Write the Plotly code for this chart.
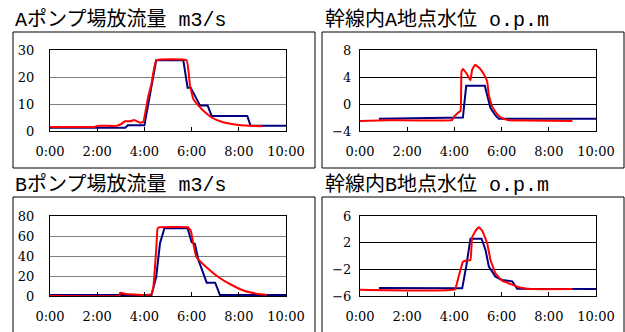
import plotly.graph_objects as go

W, H = 625, 332

# ---------------- data (hours, values) ----------------
a_flow_blue_t = [0, 3.19, 3.3, 4.0, 4.5, 5.65, 5.83, 5.96, 6.14, 6.36, 6.68, 6.85, 8.36, 8.5, 10]
a_flow_blue_v = [1.2, 1.2, 2.1, 2.1, 26.2, 26.2, 16, 16, 13.1, 9.4, 9.4, 5.6, 5.6, 1.9, 1.9]
a_flow_red_t = [0, 1.9, 2.0, 2.8, 3.0, 3.18, 3.4, 3.57, 3.8, 3.95, 4.17, 4.3, 4.5, 5.79, 5.93,
                6.07, 6.29, 6.57, 6.85, 7.27, 7.7, 8.1, 8.5, 9.0]
a_flow_red_v = [1.5, 1.5, 1.9, 1.9, 2.5, 3.6, 3.6, 4.1, 3.1, 3.3, 13.1, 17.5, 26.2, 26.2, 16.9,
                11.9, 9.4, 6.9, 5.0, 3.4, 2.6, 2.1, 1.9, 1.75]

a_lvl_blue_t = [0.8, 4.26, 4.36, 4.5, 5.29, 5.39, 5.53, 5.74, 5.88, 10]
a_lvl_blue_v = [-2.2, -2.1, -2.0, 2.7, 2.7, 1.3, -0.6, -1.7, -2.2, -2.2]
a_lvl_red_t = [0, 1.2, 3.9, 3.98, 4.12, 4.26, 4.3, 4.36, 4.51, 4.68, 4.75, 4.87, 5.04, 5.25,
               5.39, 5.46, 5.6, 5.81, 6.02, 6.3, 7.0, 9.0]
a_lvl_red_v = [-2.5, -2.4, -2.4, -1.9, -1.4, -1.0, 4.8, 5.2, 4.55, 3.5, 5.05, 5.8, 5.4, 4.4,
               3.3, 1.3, -0.4, -1.5, -2.1, -2.4, -2.45, -2.5]

b_flow_blue_t = [0, 4.3, 4.5, 4.66, 4.85, 5.83, 6.0, 6.14, 6.29, 6.5, 6.64, 7.0, 7.2, 10]
b_flow_blue_v = [1, 1, 19, 52.7, 67.7, 67.7, 54, 52, 36, 22.7, 13.3, 13.3, 1, 1]
b_flow_red_t = [0, 2.95, 2.97, 3.2, 4.0, 4.3, 4.38, 4.5, 4.56, 4.65, 5.86, 5.97, 6.07, 6.2,
                6.57, 7.13, 7.7, 8.26, 8.83, 9.18]
b_flow_red_v = [0.3, 0.3, 3.3, 2, 1, 2, 9, 46, 67.7, 68.7, 68.7, 65, 52.7, 39,
                30, 19, 11, 5, 2, 1]

b_lvl_blue_t = [0.8, 4.33, 4.5, 4.68, 5.15, 5.32, 5.46, 5.74, 6.02, 6.45, 6.66, 10]
b_lvl_blue_v = [-4.8, -4.85, -1.6, 2.6, 2.6, 0.9, -1.6, -3.1, -3.6, -3.8, -4.9, -4.96]
b_lvl_red_t = [0, 4.02, 4.18, 4.36, 4.47, 4.68, 4.75, 4.9, 5.04, 5.18, 5.39, 5.53, 5.74,
               6.02, 6.45, 6.73, 7.27, 9.0]
b_lvl_red_v = [-5.06, -5.0, -3.1, -0.86, -0.7, -0.6, 2.8, 3.8, 4.3, 3.8, 1.9, -0.6, -2.6,
               -3.7, -4.3, -4.7, -4.96, -4.96]

x_tickvals = [0, 2, 4, 6, 8, 10]
x_ticktext = ["0:00", "2:00", "4:00", "6:00", "8:00", "10:00"]

titles = ["Aポンプ場放流量 m3/s", "幹線内A地点水位 o.p.m",
          "Bポンプ場放流量 m3/s", "幹線内B地点水位 o.p.m"]
y_ranges = [[0, 30], [-4, 8], [0, 80], [-6, 6]]
y_tickvals = [[0, 10, 20, 30], [-4, 0, 4, 8], [0, 20, 40, 60, 80], [-6, -2, 2, 6]]

BLUE = "#000080"
RED = "#ff0000"

series = [
    (a_flow_blue_t, a_flow_blue_v, a_flow_red_t, a_flow_red_v),
    (a_lvl_blue_t, a_lvl_blue_v, a_lvl_red_t, a_lvl_red_v),
    (b_flow_blue_t, b_flow_blue_v, b_flow_red_t, b_flow_red_v),
    (b_lvl_blue_t, b_lvl_blue_v, b_lvl_red_t, b_lvl_red_v),
]

# plot areas in pixels (left, right, top, bottom)
areas = [(50, 286, 50, 131), (360, 596, 50, 131), (50, 286, 216, 296), (360, 596, 216, 296)]
boxes = [(13, 315, 32, 168), (322, 624, 32, 168), (13, 315, 197, 340), (322, 624, 197, 340)]
title_pos = [(13, 20), (323, 20), (13, 185), (323, 185)]
grid_colors = ["#7f7f7f", "#000000", "#7f7f7f", "#000000"]
ylab_standoff = [12, 5, 12, 5]

fig = go.Figure()
tickfont = dict(family="DejaVu Serif", size=13, color="black")

for i, (bt, bv, rt, rv) in enumerate(series):
    n = "" if i == 0 else str(i + 1)
    fig.add_trace(go.Scatter(x=bt, y=bv, mode="lines", line=dict(color=BLUE, width=2),
                             xaxis="x" + n, yaxis="y" + n, showlegend=False))
    fig.add_trace(go.Scatter(x=rt, y=rv, mode="lines",
                             line=dict(color=RED, width=2, shape="spline", smoothing=0.25),
                             xaxis="x" + n, yaxis="y" + n, showlegend=False))
    l, r, t, b = areas[i]
    fig.layout["xaxis" + n] = dict(
        domain=[l / W, r / W], range=[0, 10], anchor="y" + n, automargin=False,
        tickvals=x_tickvals, ticktext=x_ticktext, ticks="inside", ticklen=4,
        tickcolor="black", showgrid=False, zeroline=False, showline=True,
        linecolor="black", linewidth=1, mirror=True, tickfont=tickfont,
        ticklabelstandoff=8,
    )
    fig.layout["yaxis" + n] = dict(
        domain=[1 - b / H, 1 - t / H], range=y_ranges[i], tickvals=y_tickvals[i],
        anchor="x" + n, automargin=False, ticks="", showgrid=True,
        gridcolor=grid_colors[i], gridwidth=1,
        zeroline=False, showline=True, linecolor="black", linewidth=1, mirror=True,
        tickfont=tickfont, ticklabelstandoff=ylab_standoff[i],
    )

shapes = []
for (x0, x1, y0, y1) in boxes:
    shapes.append(dict(type="rect", xref="paper", yref="paper",
                       x0=x0 / W, x1=x1 / W, y0=1 - y1 / H, y1=1 - y0 / H,
                       line=dict(color="black", width=1), fillcolor="rgba(0,0,0,0)",
                       layer="below"))

annotations = []
for txt, (px, py) in zip(titles, title_pos):
    annotations.append(dict(text=txt, xref="paper", yref="paper", x=px / W, y=1 - py / H,
                            xanchor="left", yanchor="middle", showarrow=False,
                            font=dict(family="Liberation Mono, Noto Sans CJK JP", size=20,
                                      color="black")))

fig.update_layout(width=W, height=H, autosize=False,
                  margin=dict(l=0, r=0, t=0, b=0, pad=0),
                  paper_bgcolor="white", plot_bgcolor="white",
                  shapes=shapes, annotations=annotations)

fig.write_html("out.html", config={"displayModeBar": False},
               post_script="document.body.style.margin='0';")
